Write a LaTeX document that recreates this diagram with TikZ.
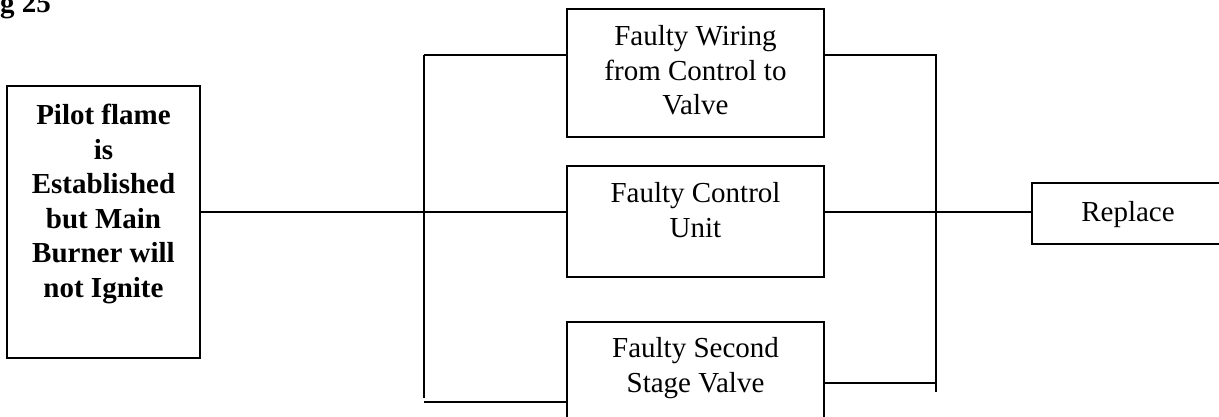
\documentclass[tikz,border=0pt]{standalone}
\usepackage{fontspec}
\setmainfont{Liberation Serif}
\begin{document}
\begin{tikzpicture}[x=1pt,y=-1pt,
  box/.style={draw,line width=1.8pt,inner sep=0pt},
  txt/.style={align=center,font=\fontsize{29}{34.5}\selectfont,inner sep=0pt},
  btxt/.style={txt,font=\fontsize{29}{34.5}\selectfont\bfseries},
  wire/.style={line width=1.8pt}]
\clip (0,0) rectangle (1219,417);
\useasboundingbox (0,0) rectangle (1219,417);
% title
\node[btxt,anchor=base west] (title) at (0,13) {g 25};
% boxes
\node[box,minimum width=193pt,minimum height=272pt] (pilot) at (103.5,222) {};
\node[box,minimum width=257pt,minimum height=128pt] (b1) at (695.5,73) {};
\node[box,minimum width=257pt,minimum height=111pt] (b2) at (695.5,221.5) {};
\node[box,minimum width=257pt,minimum height=98pt] (b3) at (695.5,371) {};
\node[box,minimum width=192pt,minimum height=61pt] (rep) at (1128,213.5) {};
% texts (anchor base = baseline of last line)
\node[btxt,anchor=base] (pilott) at (103.5,297) {Pilot flame\\is\\Established\\but Main\\Burner will\\not Ignite};
\node[txt,anchor=base] (b1t) at (695.5,115) {Faulty Wiring\\from Control to\\Valve};
\node[txt,anchor=base] (b2t) at (695.5,237) {Faulty Control\\Unit};
\node[txt,anchor=base] (b3t) at (695.5,392) {Faulty Second\\Stage Valve};
\node[txt,anchor=base] (rept) at (1128,222) {Replace};
% buses
\coordinate (m) at (0,212);
\coordinate (Lt) at (424,55);
\coordinate (Lb) at (424,398);
\coordinate (Lbl) at (424,402);
\coordinate (Rt) at (936,55);
\coordinate (Rb) at (936,392);
\coordinate (Rbl) at (936,383);
\draw[wire] (Lt) -- (Lb);
\draw[wire] (Lt) -- (b1.west |- Lt);
\draw[wire] (pilot.east |- m) -- (b2.west |- m);
\draw[wire] (Lbl) -- (b3.west |- Lbl);
\draw[wire] (b1.east |- Rt) -- (Rt) -- (Rb);
\draw[wire] (b2.east |- m) -- (rep.west |- m);
\draw[wire] (b3.east |- Rbl) -- (Rbl);
\end{tikzpicture}
\end{document}
